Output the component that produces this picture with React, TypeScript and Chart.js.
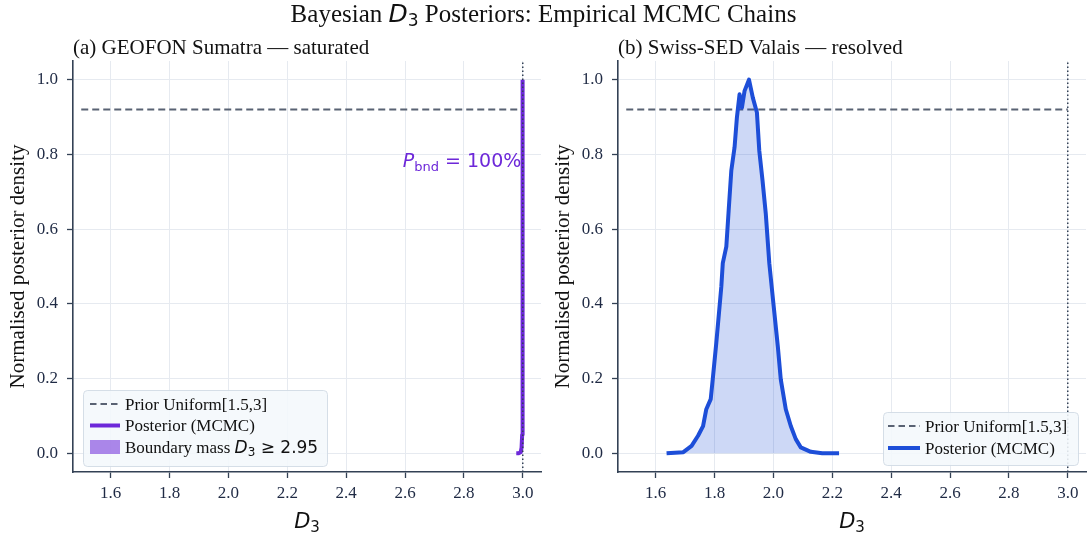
import React, { useEffect, useRef } from "react";
import { Chart, registerables } from "chart.js";

Chart.register(...registerables);

// ---------- data ----------
const xTickValues = [1.6, 1.8, 2.0, 2.2, 2.4, 2.6, 2.8, 3.0];
const yTickValues = [0.0, 0.2, 0.4, 0.6, 0.8, 1.0];
const xLimits = [1.472, 3.062];
const yLimits = [-0.05, 1.05];

const priorD3 = [1.5, 3.0];
const priorDensity = [0.92, 0.92];
const upperBound = 3.0;
const boundaryMassFrom = 2.95;

const sumatraD3 = [2.978, 2.986, 2.993, 2.996, 2.998, 2.999, 3.0];
const sumatraDensity = [0.0, 0.0, 0.003, 0.015, 0.05, 0.2, 1.0];
const sumatraPBnd = 100;

const valaisD3 = [
  1.637, 1.694, 1.722, 1.744, 1.761, 1.772, 1.787, 1.795, 1.806, 1.816,
  1.823, 1.828, 1.84, 1.848, 1.857, 1.868, 1.876, 1.885, 1.893, 1.902,
  1.917, 1.93, 1.944, 1.952, 1.963, 1.974, 1.986, 2.001, 2.015, 2.025,
  2.042, 2.059, 2.076, 2.093, 2.127, 2.166, 2.223,
];
const valaisDensity = [
  0.0, 0.003, 0.02, 0.047, 0.073, 0.118, 0.145, 0.207, 0.296, 0.384,
  0.446, 0.509, 0.553, 0.65, 0.757, 0.819, 0.899, 0.961, 0.925, 0.97,
  1.0, 0.952, 0.912, 0.81, 0.73, 0.642, 0.509, 0.393, 0.286, 0.198,
  0.118, 0.073, 0.038, 0.016, 0.004, 0.0, 0.0,
];

// ---------- styling ----------
const SERIF = '"Liberation Serif", "Times New Roman", serif';
const SANS = '"DejaVu Sans", sans-serif';
const INK = "#1f2a44";
const SPINE = "#334155";
const GRID = "#e6eaf0";
const PRIOR = "#596273";
const PURPLE = "#6d28d9";
const BLUE = "#1d4ed8";

type Seg = { text: string; font: string; dy?: number };

function drawRich(
  ctx: CanvasRenderingContext2D,
  segs: Seg[],
  x: number,
  y: number,
  align: "left" | "center" | "right"
) {
  const widths = segs.map((s) => {
    ctx.font = s.font;
    return ctx.measureText(s.text).width;
  });
  const total = widths.reduce((a, b) => a + b, 0);
  let cx = align === "left" ? x : align === "center" ? x - total / 2 : x - total;
  ctx.textAlign = "left";
  ctx.textBaseline = "alphabetic";
  segs.forEach((s, i) => {
    ctx.font = s.font;
    ctx.fillText(s.text, cx, y + (s.dy || 0));
    cx += widths[i];
  });
}

type LegendRow = { kind: "dash" | "line" | "rect"; color: string; label: Seg[] };
type LegendSpec = {
  box: [number, number, number, number];
  rowY: number[];
  handle: [number, number];
  textX: number;
  rows: LegendRow[];
};

function drawLegend(ctx: CanvasRenderingContext2D, lg: LegendSpec) {
  const [bx, by, bw, bh] = lg.box;
  ctx.save();
  ctx.beginPath();
  (ctx as any).roundRect(bx + 0.5, by + 0.5, bw, bh, 4);
  ctx.fillStyle = "rgba(244,248,252,0.88)";
  ctx.fill();
  ctx.strokeStyle = "rgba(210,218,228,0.9)";
  ctx.lineWidth = 1;
  ctx.stroke();
  lg.rows.forEach((r, i) => {
    const cy = lg.rowY[i];
    const [h0, h1] = lg.handle;
    if (r.kind === "rect") {
      ctx.fillStyle = r.color;
      ctx.fillRect(h0, cy - 7, h1 - h0, 14);
    } else {
      ctx.beginPath();
      ctx.strokeStyle = r.color;
      ctx.lineWidth = r.kind === "dash" ? 2 : 4;
      ctx.setLineDash(r.kind === "dash" ? [6.5, 4] : []);
      ctx.moveTo(h0, cy);
      ctx.lineTo(h1, cy);
      ctx.stroke();
      ctx.setLineDash([]);
    }
    ctx.fillStyle = "#111";
    drawRich(ctx, r.label, lg.textX, cy + 5.5, "left");
  });
  ctx.restore();
}

type PanelSpec = {
  subtitle: string;
  color: string;
  d3: number[];
  density: number[];
  fillArea: boolean;
  showBoundaryMass: boolean;
  annotation?: Seg[];
  legend: LegendSpec;
};

const pts = (xs: number[], ys: number[]) => xs.map((x, i) => ({ x, y: ys[i] }));

const serif = (px: number) => `${px}px ${SERIF}`;
const sans = (px: number) => `${px}px ${SANS}`;
const sansIt = (px: number) => `italic ${px}px ${SANS}`;

function Panel({ spec, left, width }: { spec: PanelSpec; left: number; width: number }) {
  const ref = useRef<HTMLCanvasElement | null>(null);

  useEffect(() => {
    const canvas = ref.current;
    if (!canvas) return;

    const datasets: any[] = [
      {
        label: "upper bound",
        data: [
          { x: upperBound, y: yLimits[0] },
          { x: upperBound, y: yLimits[1] },
        ],
        borderColor: SPINE,
        borderWidth: 1.5,
        borderDash: [1.5, 2.5],
        fill: false,
      },
      {
        label: "Posterior (MCMC)",
        data: pts(spec.d3, spec.density),
        borderColor: spec.color,
        borderWidth: 4,
        borderJoinStyle: "round",
        fill: spec.fillArea ? "origin" : false,
        backgroundColor: "rgba(29,78,216,0.22)",
      },
    ];
    if (spec.showBoundaryMass) {
      const bx = spec.d3.filter((x) => x >= boundaryMassFrom);
      const by = spec.density.filter((_, i) => spec.d3[i] >= boundaryMassFrom);
      datasets.push({
        label: "Boundary mass",
        data: pts(bx, by),
        borderWidth: 0,
        borderColor: "rgba(0,0,0,0)",
        fill: "origin",
        backgroundColor: "rgba(109,40,217,0.55)",
      });
    }
    datasets.push({
      label: "Prior Uniform[1.5,3]",
      data: pts(priorD3, priorDensity),
      borderColor: PRIOR,
      borderWidth: 2,
      borderDash: [7, 4],
      fill: false,
    });

    const decor = {
      id: "panelDecor",
      afterDraw(chart: any) {
        const ctx: CanvasRenderingContext2D = chart.ctx;
        const a = chart.chartArea;
        ctx.save();
        // panel subtitle
        ctx.fillStyle = "#111";
        drawRich(ctx, [{ text: spec.subtitle, font: serif(21) }], a.left, 54, "left");
        // y-axis title
        ctx.save();
        ctx.translate(18, (a.top + a.bottom) / 2);
        ctx.rotate(-Math.PI / 2);
        ctx.font = serif(21);
        ctx.textAlign = "center";
        ctx.textBaseline = "middle";
        ctx.fillStyle = "#111";
        ctx.fillText("Normalised posterior density", 0, 0);
        ctx.restore();
        // x-axis title
        ctx.fillStyle = "#111";
        drawRich(
          ctx,
          [
            { text: "D", font: sansIt(21) },
            { text: "3", font: sans(15), dy: 4 },
          ],
          (a.left + a.right) / 2,
          528,
          "center"
        );
        // annotation
        if (spec.annotation) {
          ctx.fillStyle = spec.color;
          const xs = chart.scales.x;
          const ys = chart.scales.y;
          drawRich(ctx, spec.annotation, xs.getPixelForValue(2.995), ys.getPixelForValue(0.765), "right");
        }
        drawLegend(ctx, spec.legend);
        ctx.restore();
      },
    };

    const tickFont = { family: SERIF, size: 17 };
    const chart = new Chart(canvas, {
      type: "line",
      data: { datasets },
      options: {
        animation: false,
        responsive: false,
        maintainAspectRatio: false,
        devicePixelRatio: 1,
        layout: { padding: { top: 61, right: width - 541, left: 0, bottom: 0 } },
        elements: { point: { radius: 0 }, line: { tension: 0 } },
        plugins: {
          legend: { display: false },
          tooltip: { enabled: false },
          title: { display: false },
        },
        scales: {
          x: {
            type: "linear",
            min: xLimits[0],
            max: xLimits[1],
            afterBuildTicks: (s: any) => {
              s.ticks = xTickValues.map((v) => ({ value: v }));
            },
            afterFit: (s: any) => {
              s.height = 63;
            },
            ticks: {
              font: tickFont,
              color: INK,
              padding: 5,
              maxRotation: 0,
              autoSkip: false,
              callback: (v: any) => Number(v).toFixed(1),
            },
            grid: { color: GRID, lineWidth: 1, tickColor: SPINE, tickLength: 6, tickWidth: 1.3 },
            border: { color: SPINE, width: 1.6 },
          },
          y: {
            type: "linear",
            min: yLimits[0],
            max: yLimits[1],
            afterBuildTicks: (s: any) => {
              s.ticks = yTickValues.map((v) => ({ value: v }));
            },
            afterFit: (s: any) => {
              s.width = 73;
            },
            ticks: {
              font: tickFont,
              color: INK,
              padding: 9,
              autoSkip: false,
              callback: (v: any) => Number(v).toFixed(1),
            },
            grid: { color: GRID, lineWidth: 1, tickColor: SPINE, tickLength: 6, tickWidth: 1.3 },
            border: { color: SPINE, width: 1.6 },
          },
        },
      } as any,
      plugins: [decor],
    });
    return () => chart.destroy();
  }, [spec, width]);

  return (
    <canvas
      ref={ref}
      width={width}
      height={535}
      style={{ position: "absolute", left, top: 0, width, height: 535 }}
    />
  );
}

const legendFont = serif(17);

const sumatraSpec: PanelSpec = {
  subtitle: "(a) GEOFON Sumatra \u2014 saturated",
  color: PURPLE,
  d3: sumatraD3,
  density: sumatraDensity,
  fillArea: false,
  showBoundaryMass: true,
  annotation: [
    { text: "P", font: sansIt(19) },
    { text: "bnd", font: sans(13), dy: 4 },
    { text: ` = ${sumatraPBnd}%`, font: sans(19) },
  ],
  legend: {
    box: [83, 390, 244, 76],
    rowY: [404, 425.5, 447],
    handle: [90, 120],
    textX: 125,
    rows: [
      { kind: "dash", color: PRIOR, label: [{ text: "Prior Uniform[1.5,3]", font: legendFont }] },
      { kind: "line", color: PURPLE, label: [{ text: "Posterior (MCMC)", font: legendFont }] },
      {
        kind: "rect",
        color: "rgba(109,40,217,0.55)",
        label: [
          { text: "Boundary mass ", font: legendFont },
          { text: "D", font: sansIt(17) },
          { text: "3", font: sans(12), dy: 3 },
          { text: ` \u2265 ${boundaryMassFrom.toFixed(2)}`, font: sans(17) },
        ],
      },
    ],
  },
};

const valaisSpec: PanelSpec = {
  subtitle: "(b) Swiss-SED Valais \u2014 resolved",
  color: BLUE,
  d3: valaisD3,
  density: valaisDensity,
  fillArea: true,
  showBoundaryMass: false,
  legend: {
    box: [338, 412, 195, 53],
    rowY: [426, 448],
    handle: [343, 375],
    textX: 380,
    rows: [
      { kind: "dash", color: PRIOR, label: [{ text: "Prior Uniform[1.5,3]", font: legendFont }] },
      { kind: "line", color: BLUE, label: [{ text: "Posterior (MCMC)", font: legendFont }] },
    ],
  },
};

export default function App() {
  return (
    <div
      style={{
        position: "fixed",
        left: 0,
        top: 0,
        width: 1087,
        height: 535,
        background: "#fff",
        overflow: "hidden",
      }}
    >
      <div
        style={{
          position: "absolute",
          left: 0,
          top: 0,
          width: 1087,
          textAlign: "center",
          fontFamily: SERIF,
          fontSize: 25,
          lineHeight: "28px",
          color: "#111",
          zIndex: 2,
          whiteSpace: "nowrap",
        }}
      >
        Bayesian{" "}
        <span style={{ fontFamily: SANS, fontStyle: "italic" }}>D</span>
        <span style={{ fontFamily: SANS, fontSize: 17, position: "relative", top: 4 }}>3</span>{" "}
        Posteriors: Empirical MCMC Chains
      </div>
      <Panel spec={sumatraSpec} left={0} width={545} />
      <Panel spec={valaisSpec} left={545} width={542} />
    </div>
  );
}
